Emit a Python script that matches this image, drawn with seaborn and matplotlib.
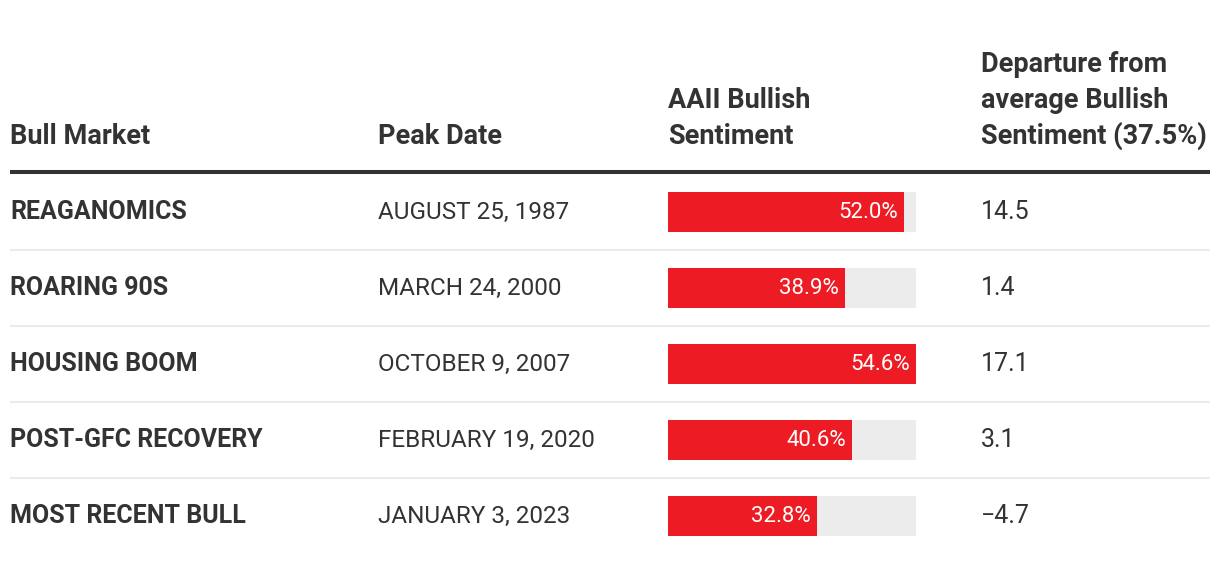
import matplotlib
matplotlib.use("Agg")
import matplotlib.pyplot as plt
import matplotlib.transforms as mtransforms
from matplotlib import font_manager
from matplotlib.lines import Line2D
import seaborn as sns

# ---------------- data ----------------
markets = ["REAGANOMICS", "ROARING 90S", "HOUSING BOOM", "POST-GFC RECOVERY", "MOST RECENT BULL"]
peak_dates = ["AUGUST 25, 1987", "MARCH 24, 2000", "OCTOBER 9, 2007", "FEBRUARY 19, 2020", "JANUARY 3, 2023"]
bullish = [52.0, 38.9, 54.6, 40.6, 32.8]
departure = [14.5, 1.4, 17.1, 3.1, -4.7]
col_headers = [
    ["Bull Market"],
    ["Peak Date"],
    ["AAII Bullish", "Sentiment"],
    ["Departure from", "average Bullish", "Sentiment (37.5%)"],
]

# ---------------- style ----------------
sns.set_style("white")
available = {f.name for f in font_manager.fontManager.ttflist}
family = "Liberation Sans Narrow" if "Liberation Sans Narrow" in available else "Roboto"
plt.rcParams["font.family"] = [family, "DejaVu Sans"]

W, H = 1220, 562
DARK = "#333333"
RED = "#ed1c24"
TRACK = "#ececec"
RULE = "#ebebeb"

fig = plt.figure(figsize=(W / 100, H / 100), dpi=100)
fig.patch.set_facecolor("white")

# bar axes: rows centred at 212..516 px, 76 px pitch
top_px, bot_px = 174, 554
ax = fig.add_axes([668 / W, 1 - bot_px / H, 248 / W, (bot_px - top_px) / H])

vmax = max(bullish)
bar_w = 40 / 76
sns.barplot(x=[vmax] * len(markets), y=markets, order=markets, color=TRACK,
            saturation=1, width=bar_w, linewidth=0, orient="h", ax=ax)
sns.barplot(x=bullish, y=markets, order=markets, color=RED,
            saturation=1, width=bar_w, linewidth=0, orient="h", ax=ax)
ax.set_xlim(0, vmax)
ax.set_ylim(len(markets) - 0.5, -0.5)
ax.axis("off")

lab_tr = mtransforms.offset_copy(ax.transData, fig=fig, x=-6, y=0, units="dots")
for i, v in enumerate(bullish):
    ax.text(v, i, f"{v:.1f}%", transform=lab_tr, ha="right", va="center",
            color="white", fontsize=16)

# row texts
row_tr = mtransforms.blended_transform_factory(fig.transFigure, ax.transData)
for i, (m, d, dep) in enumerate(zip(markets, peak_dates, departure)):
    fig.text(10 / W, i, m, transform=row_tr, ha="left", va="center",
             color=DARK, fontsize=18, fontweight="bold")
    fig.text(378 / W, i, d, transform=row_tr, ha="left", va="center",
             color=DARK, fontsize=17.5)
    fig.text(981 / W, i, f"{dep:.1f}".replace("-", "\u2212"), transform=row_tr,
             ha="left", va="center", color=DARK, fontsize=18)

# row separators
for i in range(len(markets) - 1):
    fig.add_artist(Line2D([10 / W, 1210 / W], [i + 0.5, i + 0.5], transform=row_tr,
                          color=RULE, linewidth=1.5, solid_capstyle="butt"))

# header rule
fig.add_artist(Line2D([10 / W, 1210 / W], [1 - 172 / H, 1 - 172 / H],
                      transform=fig.transFigure, color=DARK, linewidth=2.9,
                      solid_capstyle="butt"))

# headers
col_x = [10, 378, 668, 981]
baselines = [144, 108, 72]
for x, lines in zip(col_x, col_headers):
    for k, line in enumerate(reversed(lines)):
        fig.text(x / W, 1 - baselines[k] / H, line, ha="left", va="baseline",
                 color=DARK, fontsize=19.5, fontweight="bold")

fig.savefig("out.png", dpi=100, facecolor="white")
